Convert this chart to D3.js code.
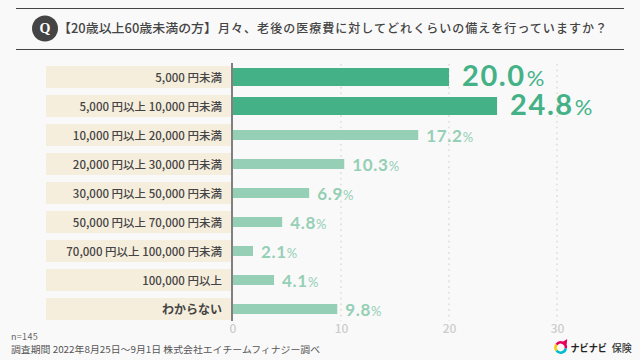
<!DOCTYPE html>
<html><head><meta charset="utf-8">
<script src="https://cdn.jsdelivr.net/npm/d3@7/dist/d3.min.js"></script>
<style>html,body{margin:0;padding:0;background:#f9f9f9}svg{display:block}</style>
</head><body><svg id="c" width="640" height="360"></svg>
<script>
const categories = ["5,000 円未満","5,000 円以上 10,000 円未満","10,000 円以上 20,000 円未満","20,000 円以上 30,000 円未満","30,000 円以上 50,000 円未満","50,000 円以上 70,000 円未満","70,000 円以上 100,000 円未満","100,000 円以上","わからない"];
const valueLabels = [20.0,24.8,17.2,10.3,6.9,4.8,2.1,4.1,9.8];
// drawn bar lengths (they differ slightly from the printed labels)
const barLengths = [20.0,24.45,17.15,10.3,7.05,4.55,1.85,3.8,9.65];
const highlighted = [true,true,false,false,false,false,false,false,false];
const ticks = [0,10,20,30];
const titleHead = "【20歳以上60歳未満の方】";
const titleBody = "月々、老後の医療費に対してどれくらいの備えを行っていますか？";
const noteN = "n=145";
const noteSurvey = "調査期間 2022年8月25日〜9月1日 株式会社エイチームフィナジー調べ";
const logoText = "ナビナビ";
const logoText2 = "保険";

const font = "'Noto Sans CJK JP','Noto Sans',sans-serif";
const svg = d3.select("#c").style("font-family", font);
const x = d3.scaleLinear().domain([0,30]).range([233,557]);
const y = d3.scaleBand().domain(categories).range([66,327]).padding(0);
const band = 22;

// header
svg.selectAll("line.h").data([8.5,49.5]).join("line").attr("class","h").attr("x1",16).attr("x2",624)
  .attr("y1",d=>d).attr("y2",d=>d).attr("stroke","#444").attr("stroke-width",1);
svg.append("circle").attr("cx",45).attr("cy",28.5).attr("r",13).attr("fill","#444");
svg.append("text").attr("x",45).attr("y",33).attr("text-anchor","middle").attr("fill","#fff")
  .attr("font-family","'Liberation Serif',serif").attr("font-weight",700).attr("font-size",14).text("Q");
svg.append("text").attr("x",58).attr("y",33).attr("fill","#444").attr("font-weight",500).attr("font-size",12.5)
  .attr("textLength",159).attr("lengthAdjust","spacingAndGlyphs").text(titleHead);
svg.append("text").attr("x",218).attr("y",33).attr("fill","#444").attr("font-weight",500).attr("font-size",12)
  .attr("textLength",389).attr("lengthAdjust","spacing").text(titleBody);

// label bands
svg.selectAll("rect.b").data(categories).join("rect").attr("class","b").attr("x",46).attr("width",185)
  .attr("y",d=>y(d)).attr("height",band).attr("fill","#f6eedd");
svg.selectAll("text.c").data(categories).join("text").attr("class","c").attr("x",222).attr("y",d=>y(d)+15.5)
  .attr("text-anchor","end").attr("fill","#444").attr("font-size",(d,i)=>i===8?12:11.5).attr("font-weight",(d,i)=>i===8?700:500).text(d=>d);

// grid
svg.selectAll("line.g").data(ticks.slice(1)).join("line").attr("class","g").attr("x1",d=>x(d)).attr("x2",d=>x(d))
  .attr("y1",64).attr("y2",321).attr("stroke","#ddd").attr("stroke-width",1.6).attr("stroke-dasharray","1.6 4.1");

// bars
svg.selectAll("rect.v").data(barLengths).join("rect").attr("class","v").attr("x",x(0)).attr("width",d=>x(d)-x(0))
  .attr("y",(d,i)=>y(categories[i])+(highlighted[i]?2:6)).attr("height",(d,i)=>highlighted[i]?18:10)
  .attr("fill",(d,i)=>highlighted[i]?"#44b187":"#95cfb5");

// axis line
svg.append("line").attr("x1",232).attr("x2",232).attr("y1",63).attr("y2",321).attr("stroke","#808080").attr("stroke-width",2);

// values
valueLabels.forEach((v,i)=>{
  const hi = highlighted[i];
  const t = svg.append("text").attr("x",x(barLengths[i])+(hi?13:8)).attr("y",y(categories[i])+(hi?20:18))
    .attr("fill",hi?"#44b187":"#95cfb5").attr("font-family","Lato,'Noto Sans',sans-serif").attr("font-weight",700)
    .attr("font-size",hi?29:17).attr("letter-spacing",hi?1.6:0.7).text(v.toFixed(1));
  t.append("tspan").attr("font-size",hi?22:13).attr("font-weight",400).attr("dx",hi?1:0).text("%");
});

// ticks
const axis = svg.append("g").attr("transform","translate(0,321)").call(d3.axisBottom(x).tickValues(ticks).tickSize(0).tickPadding(3));
axis.select(".domain").remove();
axis.selectAll("text").attr("fill","#ccc").attr("font-family",font).attr("font-size",12).attr("font-weight",500);
axis.selectAll(".tick").filter(d=>d===0).select("text").attr("dx",-0.7);

// notes
svg.append("text").attr("x",11).attr("y",340).attr("fill","#666").attr("font-size",9).attr("letter-spacing",0.3).text(noteN);
svg.append("text").attr("x",11).attr("y",353).attr("fill","#555").attr("font-size",9.5)
  .attr("textLength",309).attr("lengthAdjust","spacingAndGlyphs").text(noteSurvey);

// logo
const lx=560.7, ly=347.5;
const arc=d3.arc().innerRadius(3.9).outerRadius(6.4);
[["#00bcd0",Math.PI*0.55,Math.PI*1.3],["#fdc800",Math.PI*1.3,Math.PI*1.7],["#e6005c",Math.PI*1.7,Math.PI*2.55]].forEach(a=>{
  svg.append("path").attr("transform",`translate(${lx},${ly})`).attr("fill",a[0]).attr("d",arc({startAngle:a[1],endAngle:a[2]}));
});
svg.append("path").attr("transform",`translate(${lx},${ly})`).attr("fill","#e6005c").attr("d",d3.line()([[1,-5],[6.5,-8.5],[6,-3]])+"Z");
svg.append("text").attr("x",570.5).attr("y",351.5).attr("fill","#222").attr("font-size",10).attr("font-weight",700)
  .attr("textLength",36.5).attr("lengthAdjust","spacingAndGlyphs").text(logoText);
svg.append("text").attr("x",611.7).attr("y",351.5).attr("fill","#333").attr("font-size",10).attr("font-weight",500).text(logoText2);
</script></body></html>
